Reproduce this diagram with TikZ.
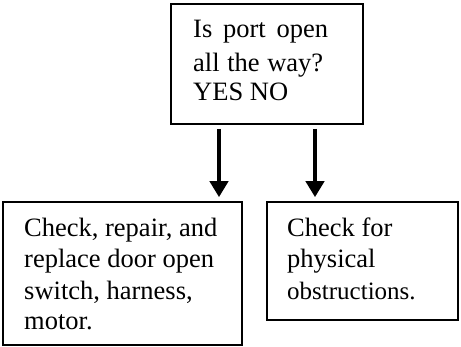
\documentclass[tikz,border=0pt]{standalone}
\usepackage{fontspec}
\setmainfont{Liberation Serif}
\usetikzlibrary{arrows.meta}
\begin{document}
\begin{tikzpicture}[x=1pt,y=-1pt,
  box/.style={draw, line width=1.6pt, inner sep=0pt},
  txt/.style={anchor=base west, inner sep=0pt, font=\fontsize{26.5}{31}\selectfont},
  small/.style={anchor=base west, inner sep=0pt, font=\fontsize{25}{30}\selectfont},
  arr/.style={line width=4pt, -{Triangle[length=16pt,width=18pt]}, shorten <=4pt, shorten >=4pt}]
\useasboundingbox (0,0) rectangle (461,347);
\node[box, minimum width=192pt, minimum height=120pt] (q) at (267,64) {};
\node[box, minimum width=239pt, minimum height=143pt] (l) at (122.5,273.5) {};
\node[box, minimum width=191pt, minimum height=118pt] (r) at (362.5,261) {};
\node[txt] (q1) at (193,38) {Is\hspace{10.8pt}port\hspace{10.8pt}open};
\node[txt] (q2) at (193,72) {all\hspace{7.6pt}the\hspace{7.6pt}way?};
\node[txt] (q3) at (193,101) {YES NO};
\node[txt] (l1) at (24,237) {Check, repair, and};
\node[txt] (l2) at (24,268) {replace door open};
\node[txt] (l3) at (24,300) {switch, harness,};
\node[txt] (l4) at (24,330) {motor.};
\node[txt] (r1) at (287,237) {Check for};
\node[txt] (r2) at (287,268) {physical};
\node[small] (r3) at (287,300) {obstructions.};
\coordinate (ax) at (219,0);
\coordinate (bx) at (315,0);
\draw[arr] (q.south -| ax) -- (l.north -| ax);
\draw[arr] (q.south -| bx) -- (r.north -| bx);
\end{tikzpicture}
\end{document}
